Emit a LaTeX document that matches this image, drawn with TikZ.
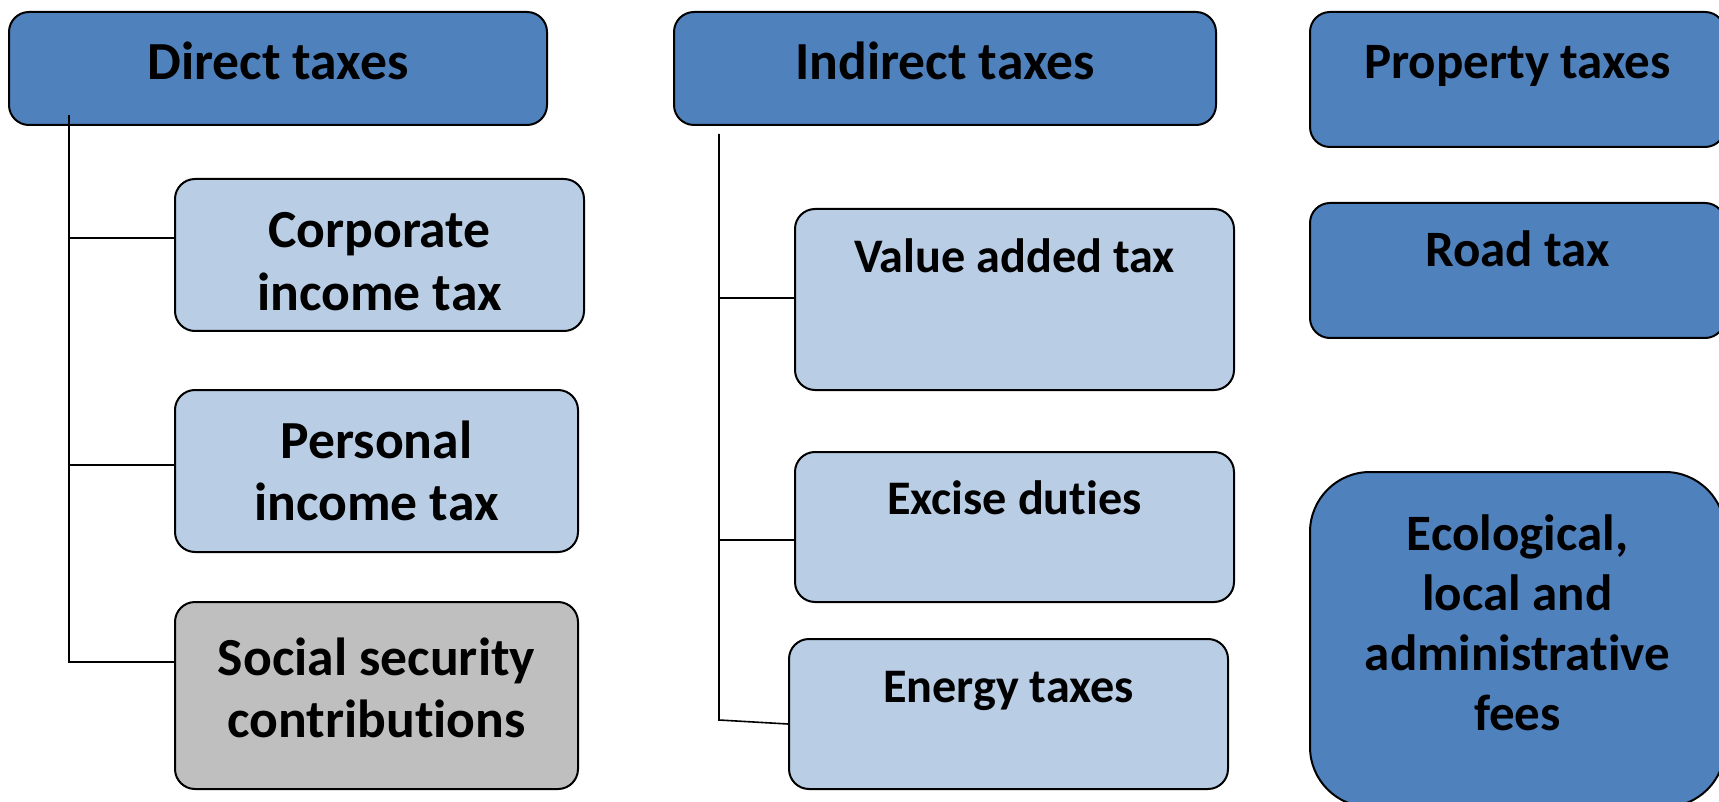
\documentclass[tikz,border=0pt]{standalone}
\usepackage{fontspec}
\setmainfont{Carlito}[Ligatures={NoCommon,NoContextual}]
\usepackage{xcolor}
\usepackage{tikz}
\definecolor{headblue}{HTML}{4F81BD}
\definecolor{subblue}{HTML}{B9CDE5}
\definecolor{subgray}{HTML}{BFBFBF}

\begin{document}
\begin{tikzpicture}[x=0.5pt,y=-0.5pt,
  box/.style={draw=black,line width=1pt,rounded corners=10pt,anchor=north west,align=center,inner sep=0pt},
  head/.style={box,fill=headblue},
  sub/.style={box,fill=subblue},
  bigtext/.style={font=\bfseries\fontsize{26.8pt}{31.2pt}\selectfont},
  midtext/.style={font=\bfseries\fontsize{25.5pt}{30.1pt}\selectfont},
  smalltext/.style={font=\bfseries\fontsize{24.1pt}{28pt}\selectfont},
  link/.style={draw=black,line width=0.8pt}]
  \useasboundingbox (0,0) rectangle (1719,802);
  \clip (0,0) rectangle (1719,802);
  % direct taxes
  \node[head,bigtext,minimum width=269pt,minimum height=56.5pt,text depth=8.2pt] (direct) at (8,11) {Direct taxes};
  \node[sub,bigtext,minimum width=204.5pt,minimum height=76pt] (corp) at (174,178) {\rule{0pt}{24pt}Corporate\\income tax};
  \node[sub,bigtext,minimum width=201.5pt,minimum height=81pt] (pers) at (174,389) {Personal\\income tax};
  \node[box,fill=subgray,bigtext,minimum width=201.5pt,minimum height=93.5pt] (social) at (174,601) {Social security\\contributions\rule[-7.7pt]{0pt}{7.7pt}};
  % indirect taxes
  \node[head,bigtext,minimum width=271pt,minimum height=56.5pt,text depth=8.2pt] (indirect) at (673,11) {Indirect taxes};
  \node[sub,smalltext,minimum width=219.5pt,minimum height=90.5pt,text depth=43.5pt] (vat) at (794,208) {Value added tax};
  \node[sub,smalltext,minimum width=219.5pt,minimum height=75pt,text depth=29.5pt] (excise) at (794,451) {Excise duties};
  \node[sub,smalltext,minimum width=219.5pt,minimum height=75pt,text depth=27pt] (energy) at (788,638) {Energy taxes};
  % other taxes
  \node[head,midtext,minimum width=207.5pt,minimum height=67.5pt,text depth=18pt] (property) at (1309,11) {Property taxes};
  \node[head,midtext,minimum width=207.5pt,minimum height=67.5pt,text depth=21.7pt] (road) at (1309,202) {Road tax};
  \node[head,midtext,rounded corners=30pt,minimum width=207.5pt,minimum height=167.5pt] (fees) at (1309,471) {Ecological,\\local and\\administrative\\fees\rule[-16.7pt]{0pt}{16.7pt}};
  % trunks
  \coordinate (dtop) at (69,115);
  \coordinate (d1) at (69,238);
  \coordinate (d2) at (69,465);
  \coordinate (d3) at (69,662);
  \coordinate (itop) at (719,134);
  \coordinate (i1) at (719,298);
  \coordinate (i2) at (719,540);
  \coordinate (i3) at (719,720);
  \draw[link] (dtop) -- (d3) -- (d3 -| social.west);
  \draw[link] (d1) -- (d1 -| corp.west);
  \draw[link] (d2) -- (d2 -| pers.west);
  \draw[link] (itop) -- (i3) -- ([yshift=-5pt]energy.west);
  \draw[link] (i1) -- (i1 -| vat.west);
  \draw[link] (i2) -- (i2 -| excise.west);
\end{tikzpicture}
\end{document}
